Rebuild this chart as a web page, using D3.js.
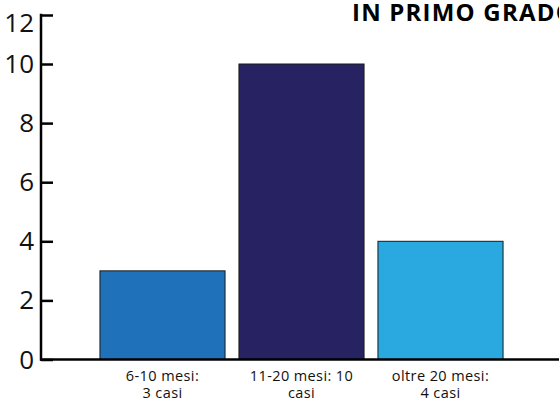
<!DOCTYPE html>
<html>
<head>
<meta charset="utf-8">
<script src="https://cdn.jsdelivr.net/npm/d3@7"></script>
<style>
  html, body { margin: 0; padding: 0; background: #fff; }
  svg { display: block; font-family: "Open Sans", "Noto Sans", sans-serif; }
</style>
</head>
<body>
<svg id="chart" width="559" height="398"></svg>
<script>
// Durata dei procedimenti in primo grado
const categories = ["6-10 mesi: 3 casi", "11-20 mesi: 10 casi", "oltre 20 mesi: 4 casi"];
const labelLines = [["6-10 mesi:", "3 casi"], ["11-20 mesi: 10", "casi"], ["oltre 20 mesi:", "4 casi"]];
const values = [3, 10, 4];
const barColors = ["#1f71b9", "#272262", "#29a9e0"];
const yTicks = [0, 2, 4, 6, 8, 10, 12];
const title = "IN PRIMO GRADO";

const svg = d3.select("#chart");

const x = d3.scaleBand()
  .domain(categories)
  .range([93, 510])
  .paddingInner(0.1)
  .paddingOuter(0.05);

// the top segment of the value axis (10 → 12) is drawn shorter
const y = d3.scaleLinear()
  .domain([0, 10, 12])
  .range([359.5, 64, 15]);

// bars
svg.append("g")
  .selectAll("rect")
  .data(values)
  .join("rect")
  .attr("x", (d, i) => x(categories[i]))
  .attr("y", d => y(d))
  .attr("width", x.bandwidth())
  .attr("height", d => y(0) - y(d))
  .attr("fill", (d, i) => barColors[i])
  .attr("stroke", "#1a1a1a")
  .attr("stroke-width", 1);

// value axis with ticks pointing inward
const yAxis = d3.axisRight(y)
  .tickValues(yTicks)
  .tickSize(12)
  .tickFormat("");
const gy = svg.append("g")
  .attr("transform", "translate(41,0)")
  .call(yAxis);
gy.select(".domain").remove();
gy.selectAll(".tick line").attr("stroke", "#000").attr("stroke-width", 2.5);
gy.append("line")
  .attr("x1", 0).attr("x2", 0)
  .attr("y1", y(12) - 1.25).attr("y2", y(0) + 1.25)
  .attr("stroke", "#000").attr("stroke-width", 2.5);

// tick labels
svg.append("g")
  .selectAll("text")
  .data(yTicks)
  .join("text")
  .attr("x", 34)
  .attr("y", d => d === 12 ? y(d) + 17 : y(d) + 9)
  .attr("text-anchor", "end")
  .attr("font-size", 26)
  .attr("fill", "#111")
  .text(d => d);

// baseline
svg.append("line")
  .attr("x1", 40).attr("x2", 559)
  .attr("y1", y(0)).attr("y2", y(0))
  .attr("stroke", "#000").attr("stroke-width", 2.5);

// category labels (two lines each)
const lab = svg.append("g")
  .selectAll("text")
  .data(categories)
  .join("text")
  .attr("text-anchor", "middle")
  .attr("font-size", 14.5)
  .attr("letter-spacing", 0.4)
  .attr("fill", "#111");
lab.each(function(c, i) {
  const t = d3.select(this);
  labelLines[i].forEach((line, k) => {
    t.append("tspan")
      .attr("x", x(c) + x.bandwidth() / 2)
      .attr("y", 381 + k * 17)
      .text(line);
  });
});

// title
svg.append("text")
  .attr("x", 352)
  .attr("y", 21)
  .attr("font-size", 24)
  .attr("font-weight", "bold")
  .attr("letter-spacing", 1.2)
  .attr("fill", "#000")
  .text(title);
</script>
</body>
</html>
